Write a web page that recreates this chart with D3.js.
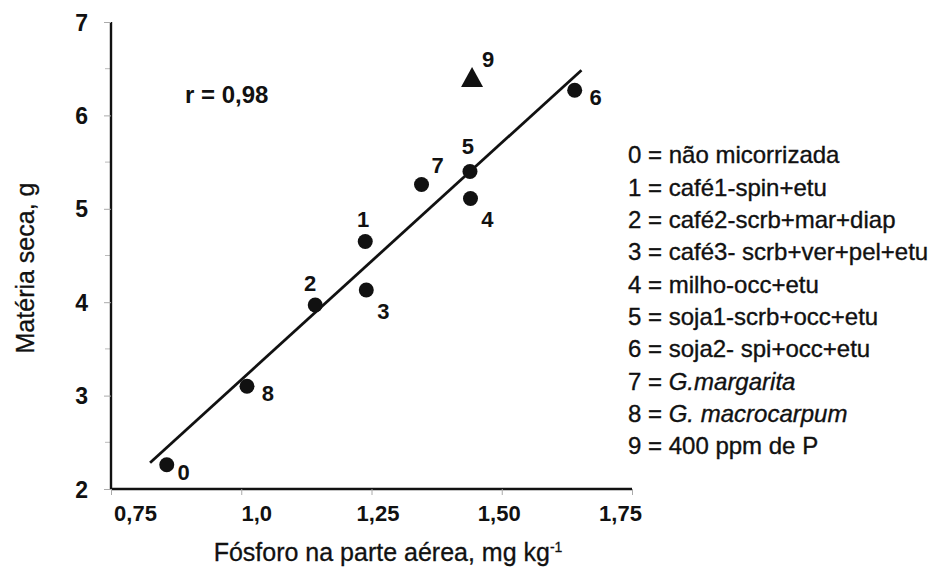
<!DOCTYPE html>
<html>
<head>
<meta charset="utf-8">
<script src="https://cdn.jsdelivr.net/npm/d3@7/dist/d3.min.js"></script>
<style>
  html, body { margin: 0; padding: 0; background: #fff; }
  svg { display: block; font-family: "Liberation Sans", Arial, sans-serif; }
</style>
</head>
<body>
<svg id="chart" width="935" height="575"></svg>
<script>
// ---- data ----
const pointIds   = ["0", "1", "2", "3", "4", "5", "6", "7", "8", "9"];
const phosphorus = [0.857, 1.238, 1.142, 1.240, 1.440, 1.439, 1.640, 1.346, 1.011, 1.443];
const dryMatter  = [2.26, 4.65, 3.97, 4.13, 5.11, 5.40, 6.27, 5.26, 3.10, 6.40];
const markerType = ["circle","circle","circle","circle","circle","circle","circle","circle","circle","triangle"];
const labelSide  = ["se", "n", "nw", "se", "se", "n", "e", "ne", "e", "ne"];
const fitX       = [0.825, 1.653];
const fitSlope   = 5.075;
const fitInter   = -1.905;
const xTicks     = [0.75, 1.0, 1.25, 1.5, 1.75];
const xTickLabels= ["0,75", "1,0", "1,25", "1,50", "1,75"];
const yTicks     = [2, 3, 4, 5, 6, 7];
const yMinorTicks= [2.5, 3.5, 4.5, 5.5, 6.5];
const legendIds  = ["0","1","2","3","4","5","6","7","8","9"];
const legendText = ["não micorrizada", "café1-spin+etu", "café2-scrb+mar+diap", "café3- scrb+ver+pel+etu",
                    "milho-occ+etu", "soja1-scrb+occ+etu", "soja2- spi+occ+etu", "G.margarita",
                    "G. macrocarpum", "400 ppm de P"];
const legendItalic = [false,false,false,false,false,false,false,true,true,false];
const rText = "r = 0,98";
const xTitle = "Fósforo na parte aérea, mg kg";
const xTitleSup = "-1";
const yTitle = "Matéria seca, g";

(function () {
// ---- layout ----
const svg = d3.select("#chart");
const mLeft = 111, mRight = 632, mTop = 22, mBottom = 489;
const x = d3.scaleLinear().domain([0.75, 1.75]).range([mLeft, mRight]);
// tick labels in the original are spread slightly inside the tick marks
const xLab = d3.scaleLinear().domain([0.75, 1.75]).range([mLeft + 24, mRight - 12]);
const y = d3.scaleLinear().domain([2, 7]).range([mBottom, mTop]);
const ink = "#111";

// minor y ticks (faint)
svg.append("g").selectAll("line").data(yMinorTicks).join("line")
  .attr("x1", mLeft - 6).attr("x2", mLeft).attr("y1", d => y(d)).attr("y2", d => y(d))
  .attr("stroke", "#bbb").attr("stroke-width", 1);

// y axis
const yAxis = svg.append("g").attr("transform", `translate(${mLeft},0)`)
  .call(d3.axisLeft(y).tickValues(yTicks).tickSize(7).tickPadding(16).tickFormat(d3.format("d")));
yAxis.select(".domain").attr("stroke", ink).attr("stroke-width", 2.4).attr("d", `M0,${mTop}V${mBottom}`);
yAxis.selectAll(".tick line").attr("stroke", "#aaa").attr("stroke-width", 1);
yAxis.selectAll(".tick text").attr("fill", ink).style("font-size", "23px").style("font-weight", "bold")
  .attr("dy", "0.35em");

// x axis
const xAxis = svg.append("g").attr("transform", `translate(0,${mBottom})`)
  .call(d3.axisBottom(x).tickValues(xTicks).tickSize(6).tickPadding(10)
        .tickFormat((d, i) => xTickLabels[i]));
xAxis.select(".domain").attr("stroke", ink).attr("stroke-width", 2.4).attr("d", `M${mLeft},0H${mRight}`);
xAxis.selectAll(".tick line").attr("stroke", "#aaa").attr("stroke-width", 1);
xAxis.selectAll(".tick text").attr("fill", ink).style("font-size", "22px").style("font-weight", "bold")
  .attr("x", d => xLab(d) - x(d));

// regression line
svg.append("line")
  .attr("x1", x(fitX[0])).attr("y1", y(fitInter + fitSlope * fitX[0]))
  .attr("x2", x(fitX[1])).attr("y2", y(fitInter + fitSlope * fitX[1]))
  .attr("stroke", ink).attr("stroke-width", 2.8);

// points
const pts = pointIds.map((id, i) => ({id, px: phosphorus[i], dm: dryMatter[i], m: markerType[i], side: labelSide[i]}));
svg.append("g").selectAll("circle").data(pts.filter(d => d.m === "circle")).join("circle")
  .attr("cx", d => x(d.px)).attr("cy", d => y(d.dm)).attr("r", 7.5).attr("fill", ink);
svg.append("g").selectAll("path").data(pts.filter(d => d.m === "triangle")).join("path")
  .attr("transform", d => `translate(${x(d.px)},${y(d.dm)})`)
  .attr("d", "M0,-11L11,9L-11,9Z").attr("fill", ink);

// point labels
const off = { se: [17, 8], n: [-2, -22], nw: [-5, -22], ne: [16, -19], e: [21, 7] };
svg.append("g").selectAll("text").data(pts).join("text")
  .attr("x", d => x(d.px) + off[d.side][0])
  .attr("y", d => y(d.dm) + off[d.side][1] + (d.id === "3" || d.id === "4" ? 13 : 0) + (d.id === "5" ? -3 : 0))
  .attr("dy", "0.35em").attr("text-anchor", "middle")
  .attr("fill", ink).style("font-size", "22px").style("font-weight", "bold")
  .text(d => d.id);

// r annotation
svg.append("text").attr("x", 185).attr("y", 95).attr("dy", "0.35em")
  .attr("fill", ink).style("font-size", "24px").style("font-weight", "bold").text(rText);

// legend
const lg = svg.append("g").attr("transform", "translate(628,155)");
const rows = lg.selectAll("text").data(legendIds).join("text")
  .attr("x", 0).attr("y", (d, i) => i * 32.3).attr("dy", "0.35em")
  .attr("fill", ink).attr("stroke", ink).attr("stroke-width", 0.35).style("font-size", "24px");
rows.append("tspan").text(d => d + " = ");
rows.append("tspan").style("font-style", (d, i) => legendItalic[i] ? "italic" : "normal")
  .text((d, i) => legendText[i]);

// axis titles
const xt = svg.append("text").attr("x", 388).attr("y", 552).attr("dy", "0.35em")
  .attr("text-anchor", "middle").attr("fill", ink).attr("stroke", ink).attr("stroke-width", 0.3)
  .style("font-size", "25px");
xt.append("tspan").text(xTitle);
xt.append("tspan").attr("dy", "-0.6em").style("font-size", "14px").text(xTitleSup);

svg.append("text").attr("transform", "translate(25,268) rotate(-90)").attr("dy", "0.35em")
  .attr("text-anchor", "middle").attr("fill", ink).attr("stroke", ink).attr("stroke-width", 0.3)
  .style("font-size", "25px").text(yTitle);
})();
</script>
</body>
</html>
